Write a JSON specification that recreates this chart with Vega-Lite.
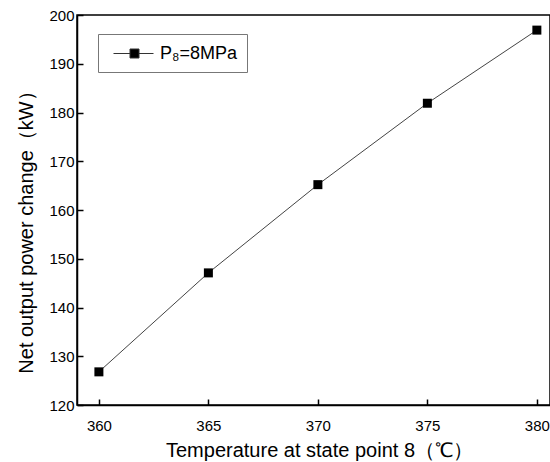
{
  "$schema": "https://vega.github.io/schema/vega-lite/v6.json",
  "autosize": "none",
  "width": 473,
  "height": 390,
  "padding": {"left": 77, "top": 15, "right": 0, "bottom": 57},
  "background": "white",
  "config": {
    "font": "Liberation Sans",
    "view": {"stroke": "black", "strokeWidth": 1.5},
    "axis": {
      "grid": false,
      "domainColor": "black",
      "domainWidth": 1.5,
      "tickColor": "black",
      "tickWidth": 1.5,
      "tickSize": -6,
      "labelFont": "Liberation Sans",
      "labelFontSize": 15,
      "labelColor": "black",
      "titleFont": "Liberation Sans",
      "titleFontSize": 20,
      "titleFontWeight": "normal",
      "titleColor": "black"
    }
  },
  "data": {
    "values": [
      {"T": 360, "P": 126.8, "series": "P₈=8MPa"},
      {"T": 365, "P": 147.1, "series": "P₈=8MPa"},
      {"T": 370, "P": 165.2, "series": "P₈=8MPa"},
      {"T": 375, "P": 181.9, "series": "P₈=8MPa"},
      {"T": 380, "P": 196.9, "series": "P₈=8MPa"}
    ]
  },
  "encoding": {
    "x": {
      "field": "T",
      "type": "quantitative",
      "scale": {"domain": [359, 380.6], "nice": false, "zero": false},
      "axis": {"values": [360, 365, 370, 375, 380], "title": "Temperature at state point 8（℃）", "labelPadding": 19, "titlePadding": 7, "titleX": 242}
    },
    "y": {
      "field": "P",
      "type": "quantitative",
      "scale": {"domain": [120, 200], "nice": false, "zero": false},
      "axis": {"values": [120, 130, 140, 150, 160, 170, 180, 190, 200], "title": "Net output power change（kW）", "labelPadding": 9, "titlePadding": 12, "titleY": 212}
    }
  },
  "layer": [
    {
      "mark": {"type": "line", "color": "#444", "strokeWidth": 1}
    },
    {
      "mark": {"type": "point", "shape": "square", "filled": true, "size": 81, "opacity": 1},
      "encoding": {
        "color": {
          "field": "series",
          "type": "nominal",
          "scale": {"range": ["black"]},
          "legend": {
            "title": null,
            "orient": "none",
            "legendX": 21,
            "legendY": 19,
            "strokeColor": "#777",
            "padding": 9,
            "symbolType": "M-0.4,0H1.25M2.15,0H3.6M1.25,-0.45H2.15V0.45H1.25Z",
            "symbolSize": 400,
            "symbolStrokeWidth": 1,
            "symbolFillColor": "black",
            "symbolStrokeColor": "#333",
            "labelFont": "Liberation Sans",
            "labelFontSize": 18,
            "labelColor": "black",
            "labelOffset": 32
          }
        }
      }
    }
  ]
}
